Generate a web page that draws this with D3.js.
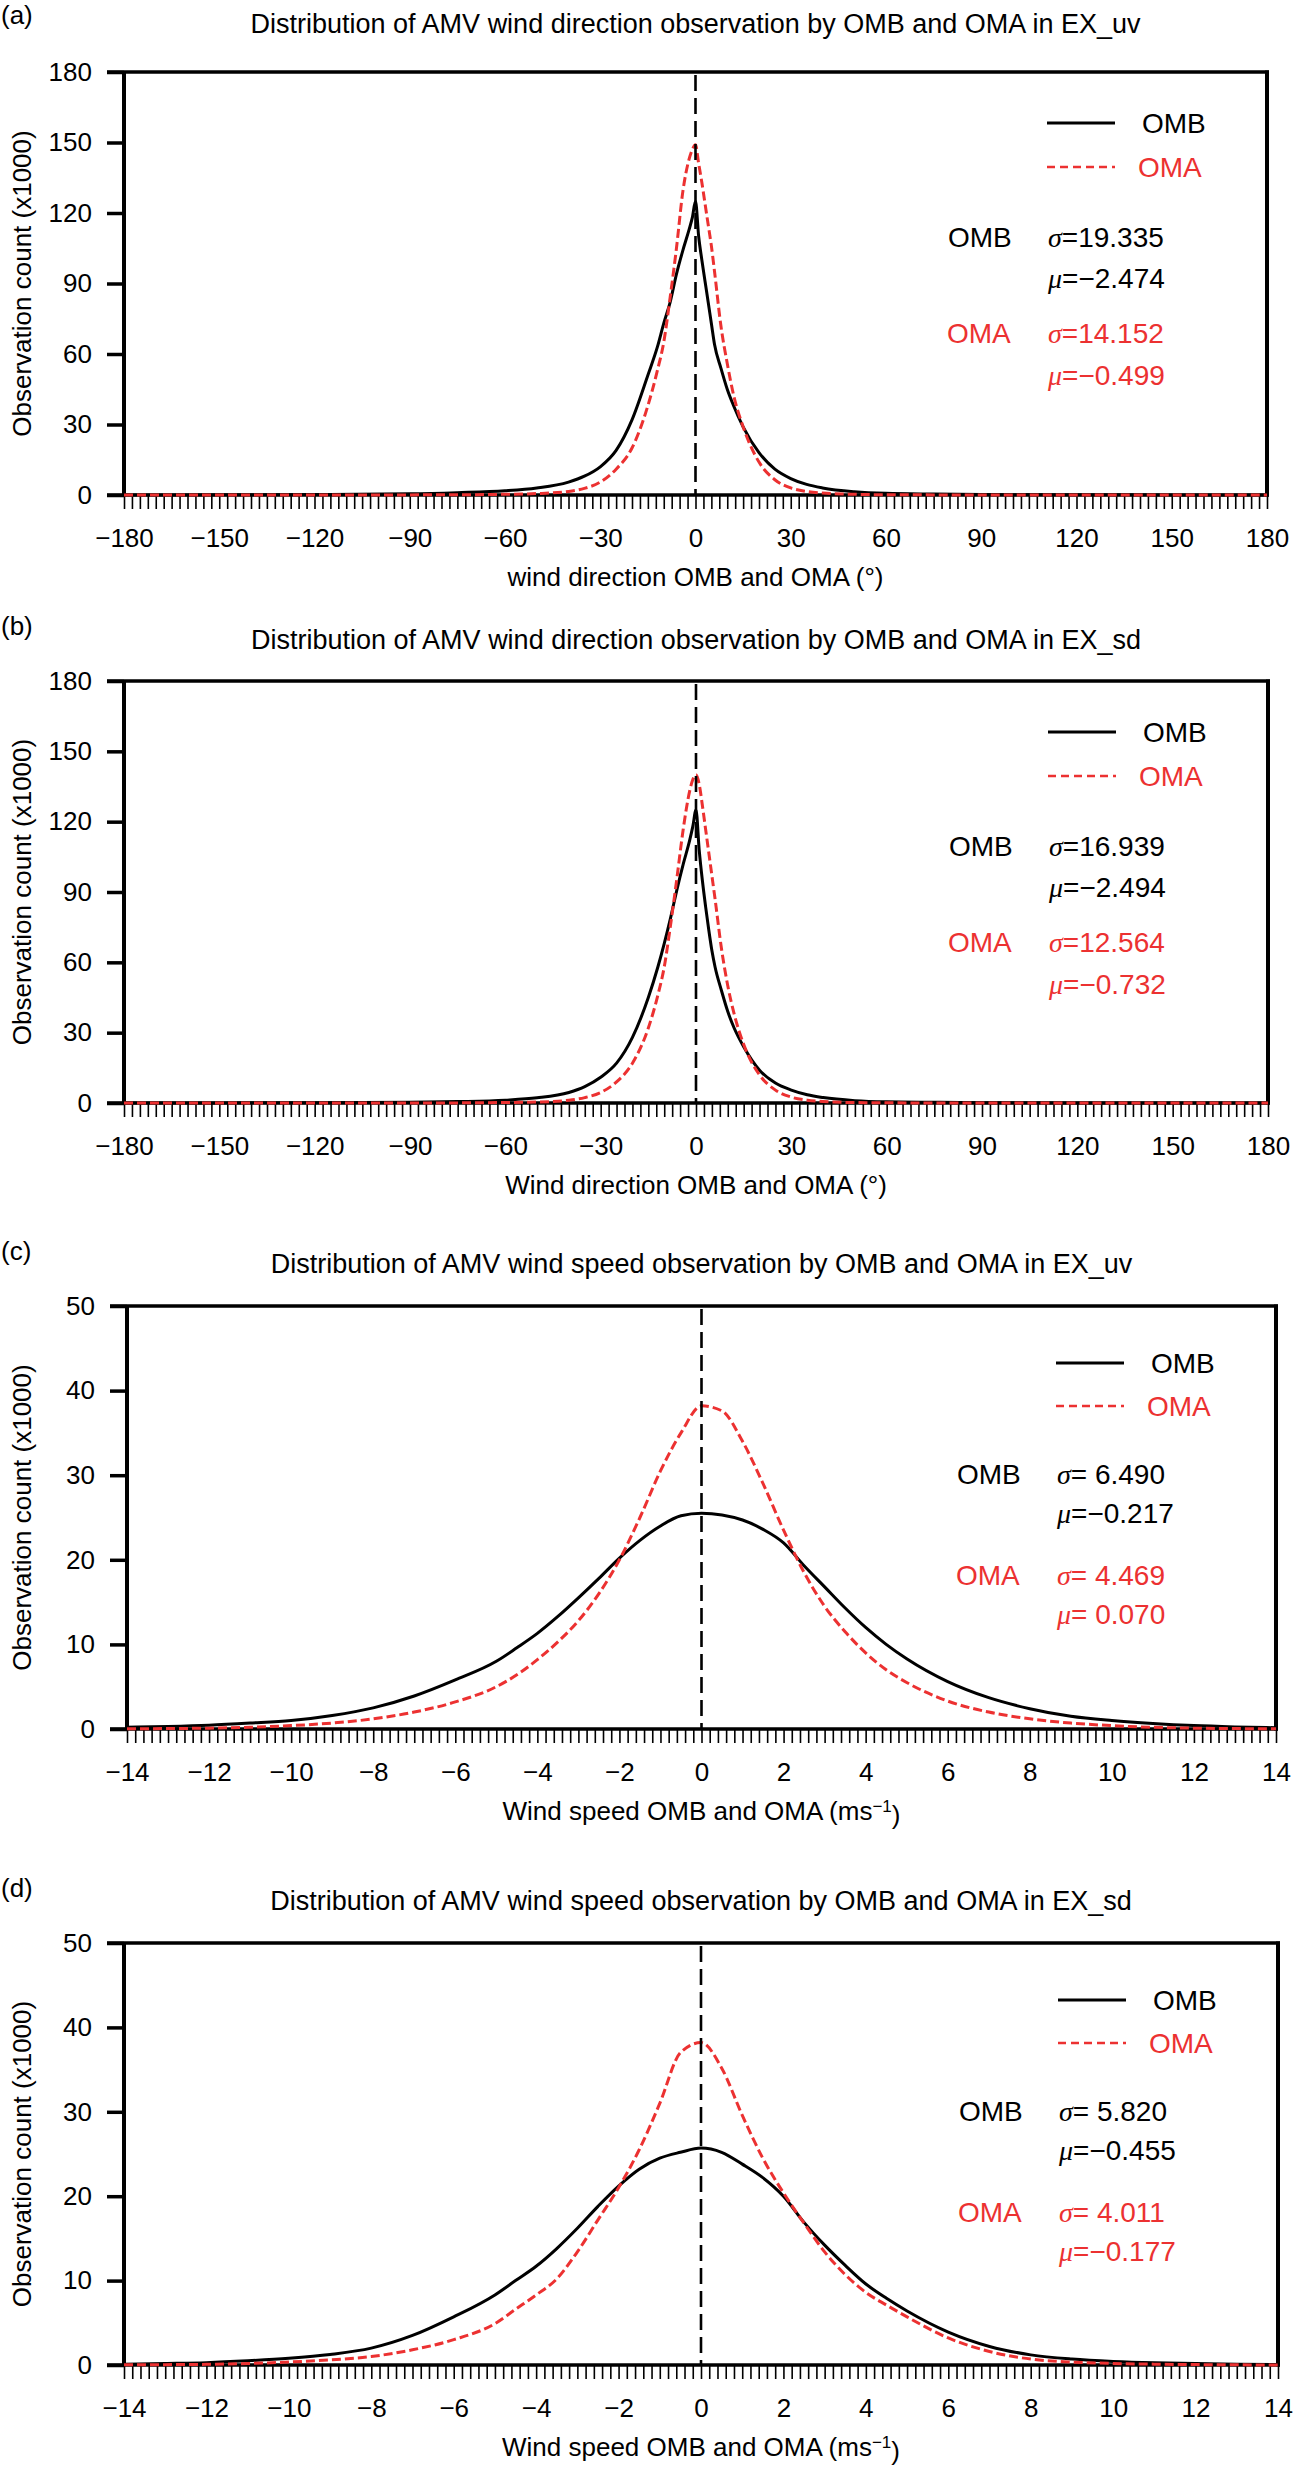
<!DOCTYPE html>
<html>
<head>
<meta charset="utf-8">
<script src="https://cdn.jsdelivr.net/npm/d3@7"></script>
<style>
  html,body{margin:0;padding:0;background:#fff;}
  svg text{font-family:"Liberation Sans", Arial, Helvetica, sans-serif;}
</style>
</head>
<body>
<svg id="chart" width="1295" height="2467"></svg>
<script>
// ---------------- DATA ----------------
const dirX = [-180,-150,-120,-90,-75,-60,-50,-40,-35,-30,-25,-20,-15,-12,-10,-8,-6,-4,-2,-1,0,1,2,3,4,5,6,8,10,12,15,20,25,30,35,40,50,60,75,90,120,150,180];
const ombA = [0,0.1,0.2,0.5,1.0,1.8,3.0,5.5,8.0,12,19,32,51,63,73,82,94,104,113,118,125,110,100,91,82,73,64,54,45,38,29,18,11,7,4.5,3,1.4,0.7,0.4,0.2,0.1,0.05,0];
const omaA = [0,0,0,0.05,0.1,0.3,0.6,1.5,2.8,5.5,11,20,38,53,65,84,105,129,143,147,149,141,133,124,115,106,95,72,56,42.5,29,14,6.5,3,1.5,0.8,0.3,0.1,0.05,0,0,0,0];
const ombB = [0,0.05,0.1,0.3,0.6,1.2,2.2,4.5,7,11,17,28,45,58,68,79,91,102,112,118,125,108,95,84,74,65,58,48,39,32,24,14,8.5,5.5,3.5,2.3,1.0,0.5,0.3,0.15,0.05,0,0];
const omaB = [0,0,0,0,0.05,0.2,0.4,1.2,2.3,4.5,9,17,32,46,58,76,96,117,133,138,140,136,127,117,107,97,87,66,50,38,25,12,5.5,2.5,1.2,0.6,0.2,0.1,0,0,0,0,0];

const spdX = [-14,-13,-12,-11,-10,-9,-8,-7,-6,-5,-4.5,-4,-3.5,-3,-2.5,-2,-1.5,-1,-0.5,0,0.5,1,1.5,2,2.5,3,3.5,4,4.5,5,6,7,8,9,10,11,12,13,14];
const ombC = [0.2,0.3,0.45,0.7,1.0,1.6,2.5,3.9,5.8,8.0,9.6,11.3,13.3,15.5,17.8,20.2,22.3,24.0,25.2,25.5,25.3,24.7,23.6,22.0,19.3,16.8,14.3,12.0,10.0,8.3,5.6,3.7,2.4,1.5,1.0,0.65,0.4,0.25,0.15];
const omaC = [0.02,0.05,0.1,0.2,0.4,0.7,1.2,2.0,3.2,5.0,6.4,8.2,10.3,12.8,16.0,20.0,25.0,30.5,35.0,38.2,37.6,34.0,29.0,23.5,18.5,14.5,11.5,9.0,7.0,5.5,3.3,2.0,1.2,0.7,0.4,0.2,0.1,0.05,0.02];
const ombD = [0.1,0.18,0.28,0.5,0.8,1.25,2.0,3.5,5.7,8.3,10.0,11.7,13.8,16.2,18.8,21.2,23.2,24.5,25.2,25.7,25.2,23.8,22.2,20.0,16.9,14.2,11.8,9.6,7.9,6.4,3.9,2.2,1.2,0.7,0.42,0.26,0.18,0.1,0.05];
const omaD = [0.02,0.04,0.08,0.18,0.35,0.6,1.0,1.8,3.0,4.9,6.6,8.3,10.2,13.4,17.2,21.0,25.5,31.0,37.0,38.2,35.2,29.6,24.5,20.4,16.8,13.4,10.7,8.6,7.1,5.7,3.2,1.6,0.7,0.35,0.18,0.1,0.05,0.02,0.01];

const dirTicks = [-180,-150,-120,-90,-60,-30,0,30,60,90,120,150,180];
const dirYTicks = [0,30,60,90,120,150,180];
const spdTicks = [-14,-12,-10,-8,-6,-4,-2,0,2,4,6,8,10,12,14];
const spdYTicks = [0,10,20,30,40,50];

const panelLabels = ["(a)","(b)","(c)","(d)"];
const titles = [
  "Distribution of AMV wind direction observation by OMB and OMA in EX_uv",
  "Distribution of AMV wind direction observation by OMB and OMA in EX_sd",
  "Distribution of AMV wind speed observation by OMB and OMA in EX_uv",
  "Distribution of AMV wind speed observation by OMB and OMA in EX_sd"
];
const xTitles = ["wind direction OMB and OMA (°)","Wind direction OMB and OMA (°)","Wind speed OMB and OMA (ms","Wind speed OMB and OMA (ms"];
const sigmaOMB = ["19.335","16.939"," 6.490"," 5.820"];
const muOMB = ["−2.474","−2.494","−0.217","−0.455"];
const sigmaOMA = ["14.152","12.564"," 4.469"," 4.011"];
const muOMA = ["−0.499","−0.732"," 0.070","−0.177"];

// ---------------- LAYOUT ----------------
const RED = "#ec3131";
const svg = d3.select("#chart");
svg.append("rect").attr("width",1295).attr("height",2467).attr("fill","#fff");

const panels = [
  {top:72,  left:124, right:1267, h:423, kind:"dir", omb:ombA, oma:omaA, lab:-48, tit:-39, leg:[51,95,165,206,261,303]},
  {top:681, left:124, right:1268, h:422, kind:"dir", omb:ombB, oma:omaB, lab:-46, tit:-32, leg:[51,95,165,206,261,303]},
  {top:1306,left:127, right:1276, h:423, kind:"spd", omb:ombC, oma:omaC, lab:-46, tit:-33, leg:[57,100,168,207,269,308]},
  {top:1943,left:124, right:1278, h:422, kind:"spd", omb:ombD, oma:omaD, lab:-46, tit:-33, leg:[57,100,168,207,269,308]}
];

const fmtMinus = d => d < 0 ? "−" + Math.abs(d) : String(d);

panels.forEach((p, i) => {
  const isDir = p.kind === "dir";
  const xs = isDir ? dirX : spdX;
  const x = d3.scaleLinear().domain(isDir ? [-180,180] : [-14,14]).range([p.left, p.right]);
  const y = d3.scaleLinear().domain(isDir ? [0,180] : [0,50]).range([p.top + p.h, p.top]);
  const bottom = p.top + p.h;
  const g = svg.append("g");

  // panel label & title
  g.append("text").attr("x", 1).attr("y", p.top + p.lab).attr("font-size", 26).text(panelLabels[i]);
  g.append("text").attr("x", (p.left + p.right)/2).attr("y", p.top + p.tit)
    .attr("text-anchor","middle").attr("font-size", 27).text(titles[i]);

  // minor x ticks
  const minor = isDir ? d3.range(0,145).map(k => -180 + k*2.5) : d3.range(0,141).map(k => -14 + k*0.2);
  const minorAxis = g.append("g").attr("transform", `translate(0,${bottom})`)
    .call(d3.axisBottom(x).tickValues(minor).tickSize(14).tickFormat(""));
  minorAxis.select(".domain").remove();
  minorAxis.selectAll("line").attr("stroke","#000").attr("stroke-width",1.6);

  // major x labels
  const labAxis = g.append("g").attr("transform", `translate(0,${bottom})`)
    .call(d3.axisBottom(x).tickValues(isDir ? dirTicks : spdTicks).tickSize(0).tickPadding(34).tickFormat(fmtMinus));
  labAxis.select(".domain").remove();
  labAxis.selectAll("text").attr("font-size", 26).attr("fill","#000")
    .style("font-family",'"Liberation Sans", Arial, sans-serif');

  // y axis
  const yAxis = g.append("g").attr("transform", `translate(${p.left},0)`)
    .call(d3.axisLeft(y).tickValues(isDir ? dirYTicks : spdYTicks).tickSize(17).tickPadding(15));
  yAxis.select(".domain").remove();
  yAxis.selectAll("line").attr("stroke","#000").attr("stroke-width",3.5);
  yAxis.selectAll("text").attr("font-size", 26).attr("fill","#000")
    .style("font-family",'"Liberation Sans", Arial, sans-serif');

  // frame
  g.append("line").attr("x1",p.left).attr("x2",p.left).attr("y1",p.top).attr("y2",bottom).attr("stroke","#000").attr("stroke-width",4);
  g.append("line").attr("x1",p.right).attr("x2",p.right).attr("y1",p.top-1.5).attr("y2",bottom+1.5).attr("stroke","#000").attr("stroke-width",4);
  g.append("line").attr("x1",p.left-17).attr("x2",p.right+2).attr("y1",p.top).attr("y2",p.top).attr("stroke","#000").attr("stroke-width",3.5);
  g.append("line").attr("x1",p.left-17).attr("x2",p.right+2).attr("y1",bottom).attr("y2",bottom).attr("stroke","#000").attr("stroke-width",3.5);

  // axis titles
  g.append("text").attr("transform", `translate(22,${p.top + p.h/2}) rotate(-90)`)
    .attr("text-anchor","middle").attr("dy","0.35em").attr("font-size",26).text("Observation count (x1000)");
  const xt = g.append("text").attr("x",(p.left+p.right)/2).attr("y", bottom + 82).attr("dy","0.35em")
    .attr("text-anchor","middle").attr("font-size",26).text(xTitles[i]);
  if (!isDir) {
    xt.append("tspan").attr("dy","-0.45em").attr("font-size",17).text("−1");
    xt.append("tspan").attr("dy","0.45em").text(")");
  }

  // curves
  const line = d3.line().x((d,k) => x(xs[k])).y(d => y(d)).curve(d3.curveMonotoneX);
  g.append("path").datum(p.omb).attr("d", line).attr("fill","none").attr("stroke","#000").attr("stroke-width",3);
  g.append("path").datum(p.oma).attr("d", line).attr("fill","none").attr("stroke",RED).attr("stroke-width",3)
    .attr("stroke-dasharray","9,4");

  // zero dashed line
  g.append("line").attr("x1",x(0)).attr("x2",x(0)).attr("y1",p.top+3).attr("y2",bottom)
    .attr("stroke","#000").attr("stroke-width",2.6).attr("stroke-dasharray","16,7");

  // legend
  const L = p.leg;
  g.append("line").attr("x1",p.right-220).attr("x2",p.right-152).attr("y1",p.top+L[0]).attr("y2",p.top+L[0])
    .attr("stroke","#000").attr("stroke-width",3);
  g.append("text").attr("x",p.right-125).attr("y",p.top+L[0]).attr("dy","0.36em").attr("font-size",28).text("OMB");
  g.append("line").attr("x1",p.right-220).attr("x2",p.right-152).attr("y1",p.top+L[1]).attr("y2",p.top+L[1])
    .attr("stroke",RED).attr("stroke-width",2.5).attr("stroke-dasharray","8,5");
  g.append("text").attr("x",p.right-129).attr("y",p.top+L[1]).attr("dy","0.36em").attr("font-size",28).attr("fill",RED).text("OMA");

  // stats
  const addStat = (xx, yy, sym, val, col) => {
    const t = g.append("text").attr("x",xx).attr("y",yy).attr("dy","0.36em").attr("font-size",28).attr("fill",col);
    t.append("tspan").attr("font-style","italic").style("font-family",'"Liberation Serif", "DejaVu Serif", serif').text(sym);
    t.append("tspan").text("=" + val);
  };
  g.append("text").attr("x",p.right-319).attr("y",p.top+L[2]).attr("dy","0.36em").attr("font-size",28).text("OMB");
  addStat(p.right-219, p.top+L[2], "σ", sigmaOMB[i], "#000");
  addStat(p.right-219, p.top+L[3], "μ", muOMB[i], "#000");
  g.append("text").attr("x",p.right-320).attr("y",p.top+L[4]).attr("dy","0.36em").attr("font-size",28).attr("fill",RED).text("OMA");
  addStat(p.right-219, p.top+L[4], "σ", sigmaOMA[i], RED);
  addStat(p.right-219, p.top+L[5], "μ", muOMA[i], RED);
});
</script>
</body>
</html>
